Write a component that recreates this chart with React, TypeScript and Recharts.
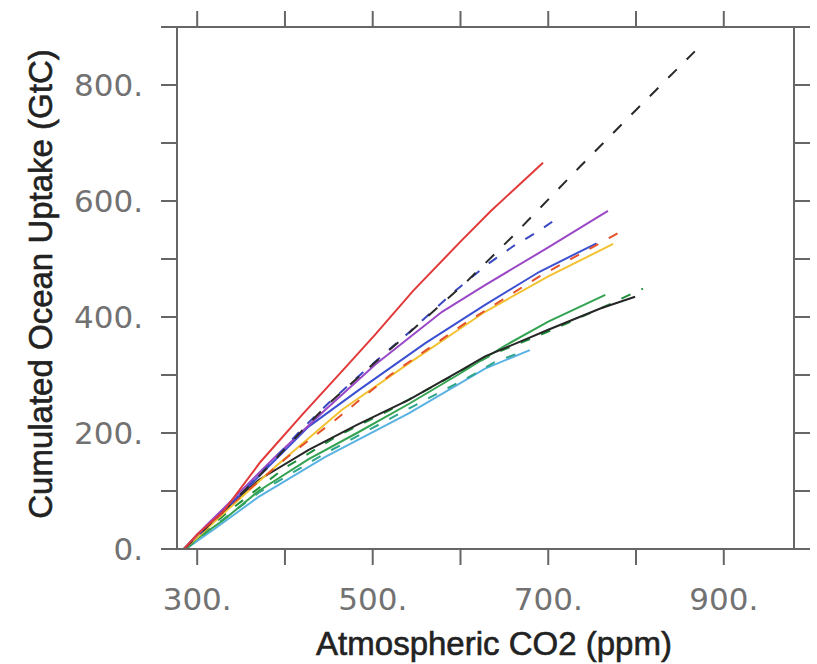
import React from "react";
import { LineChart, Line, XAxis, YAxis } from "recharts";

// x = atmospheric CO2 (ppm), y = cumulated ocean uptake (GtC)
const redSolid = [
  [285, 0], [300, 25], [330, 65], [372, 150], [420, 232], [470, 315],
  [503, 370], [546, 445], [600, 530], [634, 582], [694, 666],
];
const blackDashed = [
  [285, 0], [300, 22], [340, 80], [380, 140], [420, 205], [450, 251],
  [493, 309], [541, 372], [605, 458], [660, 540], [736, 659], [800, 757], [867, 858],
];
const blueDashed = [
  [285, 0], [300, 22], [340, 80], [380, 142], [420, 208], [450, 252],
  [493, 310], [541, 373], [590, 440], [630, 490], [660, 522], [689, 548], [713, 573],
];
const purpleSolid = [
  [285, 0], [300, 25], [332, 73], [389, 159], [446, 240], [503, 318],
  [579, 409], [628, 455], [700, 520], [768, 583],
];
const blueSolid = [
  [285, 0], [300, 24], [340, 80], [380, 140], [427, 211], [484, 274],
  [560, 355], [628, 421], [690, 478], [755, 527],
];
const yellowSolid = [
  [285, 0], [300, 20], [340, 75], [389, 142], [465, 240], [541, 320],
  [628, 409], [700, 470], [774, 526],
];
const orangeDashed = [
  [285, 0], [300, 22], [340, 78], [408, 165], [457, 222], [520, 300],
  [605, 389], [690, 470], [774, 540], [789, 553],
];
const greenSolid = [
  [287, 0], [300, 18], [330, 50], [370, 100], [427, 155], [482, 200],
  [541, 250], [600, 303], [650, 350], [700, 392], [765, 438],
];
const blackSolid = [
  [285, 0], [300, 22], [330, 65], [370, 119], [427, 171], [482, 214],
  [541, 257], [598, 306], [628, 332], [700, 378], [760, 415], [799, 435],
];
const greenDashed = [
  [286, 0], [300, 20], [340, 70], [400, 140], [460, 195], [520, 240],
  [580, 290], [640, 338], [700, 375], [760, 415], [808, 449],
];
const cyanSolid = [
  [287, 0], [320, 35], [370, 90], [446, 159], [541, 234], [628, 311], [679, 343],
];
const tealDashed = [
  [287, 0], [320, 40], [370, 97], [446, 165], [541, 242], [614, 300], [639, 322], [670, 340],
];

const xTicks = [300, 400, 500, 600, 700, 800, 900];
const xLabels = [300, 500, 700, 900];
const yTicks = [0, 100, 200, 300, 400, 500, 600, 700, 800, 900];
const yLabels = [0, 200, 400, 600, 800];

const series = [
  { name: "cyan", pts: cyanSolid, color: "#5ab2e3", dash: undefined },
  { name: "teal", pts: tealDashed, color: "#2fa58c", dash: "10 12" },
  { name: "greenDash", pts: greenDashed, color: "#1f8f3c", dash: "10 12" },
  { name: "green", pts: greenSolid, color: "#33a352", dash: undefined },
  { name: "black", pts: blackSolid, color: "#262626", dash: undefined },
  { name: "yellow", pts: yellowSolid, color: "#f2c230", dash: undefined },
  { name: "blue", pts: blueSolid, color: "#3c50d2", dash: undefined },
  { name: "orange", pts: orangeDashed, color: "#e4512a", dash: "10 12" },
  { name: "purple", pts: purpleSolid, color: "#9a48c6", dash: undefined },
  { name: "blueDash", pts: blueDashed, color: "#3a48c0", dash: "10 12" },
  { name: "blackDash", pts: blackDashed, color: "#2a2a2a", dash: "12 14" },
  { name: "red", pts: redSolid, color: "#e23a3a", dash: undefined },
];

const axisColor = "#666";
const tickFont = "'DejaVu Sans', sans-serif";
const titleFont = "'Liberation Sans', Arial, sans-serif";

const XTick = (props: any) => {
  const { x, y, payload } = props;
  if (!xLabels.includes(payload.value)) return <g />;
  return (
    <text x={x} y={y} dy={43} textAnchor="middle" fontFamily={tickFont} fontSize={31} fill="#727272">
      {payload.value}.
    </text>
  );
};

const YTick = (props: any) => {
  const { x, y, payload } = props;
  if (!yLabels.includes(payload.value)) return <g />;
  return (
    <text x={x} y={y} dy={11} textAnchor="end" fontFamily={tickFont} fontSize={31} fill="#727272">
      {payload.value}.
    </text>
  );
};

const NoTick = () => <g />;

export default function App() {
  return (
    <div style={{ position: "absolute", left: 0, top: 0, width: 817, height: 664, background: "#fff" }}>
      <LineChart width={817} height={664} margin={{ top: 0, right: 0, bottom: 0, left: 0 }}>
        <XAxis
          xAxisId="bottom"
          type="number"
          dataKey="x"
          domain={[277, 980]}
          ticks={xTicks}
          allowDataOverflow
          height={115}
          tickSize={16}
          tickMargin={2}
          tick={XTick}
          interval={0}
          axisLine={{ stroke: axisColor, strokeWidth: 2 }}
          tickLine={{ stroke: axisColor, strokeWidth: 2 }}
        />
        <XAxis
          xAxisId="top"
          orientation="top"
          type="number"
          dataKey="x"
          domain={[277, 980]}
          ticks={xTicks}
          allowDataOverflow
          height={27}
          tickSize={16}
          tick={NoTick}
          interval={0}
          axisLine={{ stroke: axisColor, strokeWidth: 2 }}
          tickLine={{ stroke: axisColor, strokeWidth: 2 }}
        />
        <YAxis
          yAxisId="left"
          type="number"
          domain={[0, 900]}
          ticks={yTicks}
          allowDataOverflow
          width={177}
          tickSize={16}
          tickMargin={18}
          tick={YTick}
          interval={0}
          axisLine={{ stroke: axisColor, strokeWidth: 2 }}
          tickLine={{ stroke: axisColor, strokeWidth: 2 }}
        />
        <YAxis
          yAxisId="right"
          orientation="right"
          type="number"
          domain={[0, 900]}
          ticks={yTicks}
          allowDataOverflow
          width={23}
          tickSize={16}
          tick={NoTick}
          interval={0}
          axisLine={{ stroke: axisColor, strokeWidth: 2 }}
          tickLine={{ stroke: axisColor, strokeWidth: 2 }}
        />
        {series.map((s) => (
          <Line
            key={s.name}
            xAxisId="bottom"
            yAxisId="left"
            data={s.pts.map(([x, y]) => ({ x, y }))}
            dataKey="y"
            type="linear"
            stroke={s.color}
            strokeWidth={2}
            strokeDasharray={s.dash}
            dot={false}
            activeDot={false}
            isAnimationActive={false}
          />
        ))}
      </LineChart>
      <svg
        width={817}
        height={664}
        style={{ position: "absolute", left: 0, top: 0, pointerEvents: "none" }}
      >
        <text
          x={494}
          y={655}
          textAnchor="middle"
          fontFamily={titleFont}
          fontSize={33}
          fill="#222"
          stroke="#222"
          strokeWidth={0.6}
        >
          Atmospheric CO2 (ppm)
        </text>
        <text
          transform="translate(52,284) rotate(-90)"
          textAnchor="middle"
          fontFamily={titleFont}
          fontSize={33}
          fill="#222"
          stroke="#222"
          strokeWidth={0.6}
        >
          Cumulated Ocean Uptake (GtC)
        </text>
      </svg>
    </div>
  );
}
